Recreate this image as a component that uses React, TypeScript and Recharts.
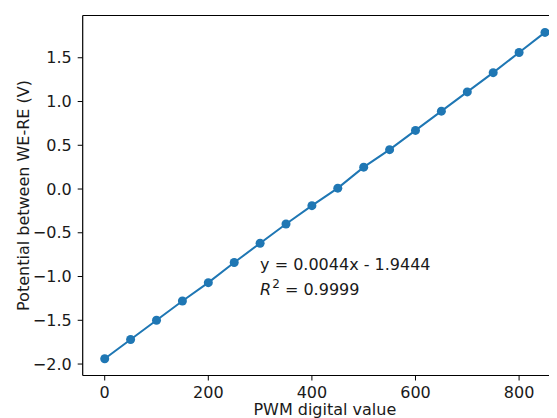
import React from "react";
import { LineChart, Line, XAxis, YAxis, ReferenceLine, ReferenceDot } from "recharts";

const pwmValues = [0, 50, 100, 150, 200, 250, 300, 350, 400, 450, 500, 550, 600, 650, 700, 750, 800, 850];
const potentialValues = [-1.94, -1.72, -1.5, -1.28, -1.07, -0.84, -0.62, -0.4, -0.19, 0.01, 0.25, 0.45, 0.67, 0.89, 1.11, 1.33, 1.56, 1.79];
const xTicks = [0, 200, 400, 600, 800];
const yTicks = [-2, -1.5, -1, -0.5, 0, 0.5, 1, 1.5];
const xDomain = [-42.5, 892.5];
const yDomain = [-2.131, 1.983];
const fitText = "y = 0.0044x - 1.9444";
const r2Value = "0.9999";
const xLabel = "PWM digital value";
const yLabel = "Potential between WE-RE (V)";

const data = pwmValues.map((x, i) => ({ x, y: potentialValues[i] }));

const FONT = "'DejaVu Sans', sans-serif";
const BLUE = "#1f77b4";
const TXT = "#1a1a1a";

const fmtY = (v: number) => v.toFixed(1).replace("-", "\u2212");

export default function App() {
  return (
    <div style={{ width: 549, height: 410, overflow: "hidden", position: "relative" }}>
      <LineChart
        width={600}
        height={410}
        data={data}
        margin={{ top: 7.5, right: 41, left: 0, bottom: 0 }}
        style={{ fontFamily: FONT }}
      >
        <XAxis
          dataKey="x"
          type="number"
          domain={xDomain}
          ticks={xTicks}
          allowDataOverflow
          height={42.5}
          tickSize={5}
          tickMargin={6}
          stroke="#000"
          tick={{ fill: TXT, fontSize: 16, fontFamily: FONT }}
          tickLine={{ stroke: "#000" }}
          axisLine={{ stroke: "#000", strokeWidth: 1.2 }}
          label={{
            content: (props: any) => {
              const vb = props.viewBox || {};
              return (
                <text
                  x={vb.x + vb.width / 2}
                  y={407}
                  textAnchor="middle"
                  fontSize={16}
                  fontFamily={FONT}
                  fill={TXT}
                >
                  {xLabel}
                </text>
              );
            },
          }}
        />
        <YAxis
          dataKey="y"
          type="number"
          domain={yDomain}
          ticks={yTicks}
          allowDataOverflow
          width={74.7}
          tickSize={5}
          tickMargin={6}
          tickFormatter={fmtY}
          stroke="#000"
          tick={{ fill: TXT, fontSize: 16, fontFamily: FONT }}
          tickLine={{ stroke: "#000" }}
          axisLine={{ stroke: "#000", strokeWidth: 1.2 }}
          label={{
            content: (props: any) => {
              const vb = props.viewBox || {};
              const cx = 15.5;
              const cy = vb.y + vb.height / 2;
              return (
                <text
                  x={cx}
                  y={cy}
                  textAnchor="middle"
                  dominantBaseline="central"
                  transform={`rotate(-90, ${cx}, ${cy})`}
                  fontSize={16}
                  fontFamily={FONT}
                  fill={TXT}
                >
                  {yLabel}
                </text>
              );
            },
          }}
        />
        <ReferenceLine y={yDomain[1]} stroke="#000" strokeWidth={1.2} ifOverflow="visible" />
        <ReferenceLine x={xDomain[1]} stroke="#000" strokeWidth={1.2} ifOverflow="visible" />
        <Line
          dataKey="y"
          stroke={BLUE}
          strokeWidth={2}
          dot={{ r: 4.5, fill: BLUE, stroke: BLUE, strokeWidth: 0 }}
          activeDot={false}
          isAnimationActive={false}
        />
        <ReferenceDot
          x={300}
          y={-0.93}
          r={0}
          fill="none"
          stroke="none"
          ifOverflow="visible"
          label={{
            content: (props: any) => {
              const vb = props.viewBox || {};
              return (
                <text x={vb.x} y={vb.y} fontSize={16} fontFamily={FONT} fill={TXT}>
                  {fitText}
                </text>
              );
            },
          }}
        />
        <ReferenceDot
          x={300}
          y={-1.21}
          r={0}
          fill="none"
          stroke="none"
          ifOverflow="visible"
          label={{
            content: (props: any) => {
              const vb = props.viewBox || {};
              return (
                <text x={vb.x} y={vb.y} fontSize={16} fontFamily={FONT} fill={TXT}>
                  <tspan fontStyle="italic">R</tspan>
                  <tspan dx={1} dy={-7} fontSize={12}>2</tspan>
                  <tspan dy={7}>{" = " + r2Value}</tspan>
                </text>
              );
            },
          }}
        />
      </LineChart>
    </div>
  );
}
